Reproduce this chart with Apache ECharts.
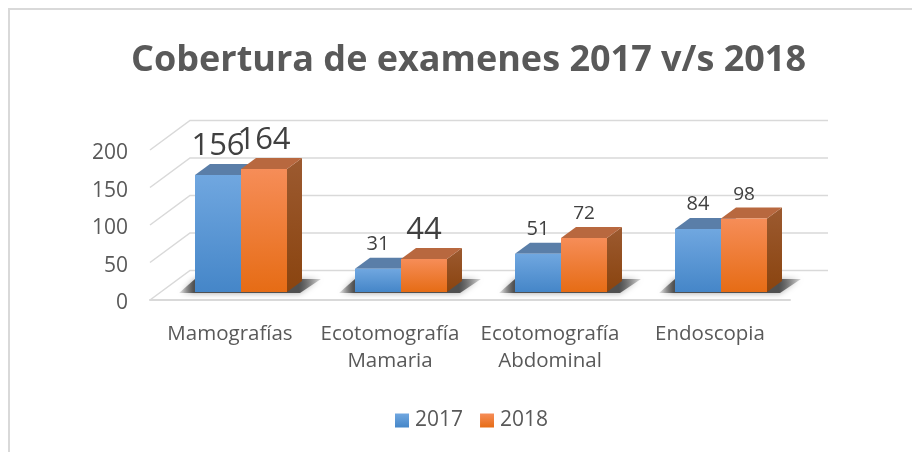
<!DOCTYPE html>
<html><head><meta charset="utf-8">
<style>html,body{margin:0;padding:0;background:#fff}#c{width:912px;height:452px}</style>
<script src="https://cdn.jsdelivr.net/npm/echarts@6/dist/echarts.min.js"></script>
</head><body><div id="c"></div>
<script>
const categories = ['Mamografías', 'Ecotomografía\nMamaria', 'Ecotomografía\nAbdominal', 'Endoscopia'];
const values2017 = [156, 31, 51, 84];
const values2018 = [164, 44, 72, 98];
const labelSize2017 = [31, 20, 20, 20];
const labelSize2018 = [31, 31, 19, 19];
const ticks = [0, 50, 100, 150, 200];

const WALL = [40, -29.5], INSET = [11, -8], DEPTH = [15, -11];
const GREY = '#d9d9d9', TXT = '#404040';
const grad = (a, b) => ({type:'linear',x:0,y:0,x2:0,y2:1,colorStops:[{offset:0,color:a},{offset:1,color:b}]});

function wall(params, api) {
  const v = api.value(0);
  const a = api.coord([0, v]);
  const band = api.size([1, 0])[0];
  const x0 = a[0] - band / 2, y0 = a[1];
  const x1 = x0 + WALL[0], y1 = y0 + WALL[1];
  const xEnd = x1 + band * 4 - 2;
  return {type:'polyline', silent:true, shape:{points:[[x0,y0],[x1,y1],[xEnd,y1]]},
    style:{stroke:GREY, lineWidth:1.5, fill:null}};
}
function shadow(params, api) {
  const c = api.coord([api.value(0), 0]);
  const band = api.size([1, 0])[0];
  const w = band * 0.2875;
  const l = c[0] + INSET[0] - w, r = c[0] + INSET[0] + w, y = c[1] + INSET[1] + 1;
  const W = r + 34 - (l - 16);
  return {type:'polygon', silent:true, shape:{points:[[l-16,y],[r+13,y],[r+34,y-14],[l,y-14]]},
    style:{fill:{type:'linear',x:0,y:0,x2:1,y2:0,colorStops:[
      {offset:0,color:'rgba(80,80,80,0.1)'},{offset:15/W,color:'#505050'},
      {offset:1-22/W,color:'#505050'},{offset:1,color:'rgba(80,80,80,0.2)'}]},
      shadowBlur:6, shadowColor:'rgba(100,100,100,0.6)'}};
}
function bar(front, top, side, side2, idx, sizes) {
  return function (params, api) {
    const cat = api.value(0), val = api.value(1);
    const base = api.coord([cat, 0]), tip = api.coord([cat, val]);
    const band = api.size([1, 0])[0];
    const w = band * 0.2875;
    const cx = base[0] + INSET[0];
    const l = cx + (idx - 1) * w, r = l + w;
    const b = base[1] + INSET[1], t = tip[1] + INSET[1];
    const fs = sizes[cat];
    return {type:'group', children:[
      {type:'polygon', shape:{points:[[r,b],[r+DEPTH[0],b+DEPTH[1]],[r+DEPTH[0],t+DEPTH[1]],[r,t]]},
        style:{fill:grad(side, side2)}},
      {type:'polygon', shape:{points:[[l,t],[r,t],[r+DEPTH[0],t+DEPTH[1]],[l+DEPTH[0],t+DEPTH[1]]]},
        style:{fill:top}},
      {type:'rect', shape:{x:l,y:t,width:w,height:b-t}, style:{fill:grad(front[0], front[1])}},
      {type:'text', z2:50, style:{text:String(val), x:(l+r)/2, y:t-17.5-fs*0.36, align:'center', verticalAlign:'middle',
        font:fs+'px "Open Sans"', fill:TXT}}
    ]};
  };
}
const BLUE = ['#70a7e0', '#4586c8'], ORANGE = ['#f68d58', '#e66c15'];
const chart = echarts.init(document.getElementById('c'), null, {renderer:'canvas'});
chart.setOption({
  animation:false,
  backgroundColor:'#fff',
  graphic:[{type:'rect', z:-1, silent:true, shape:{x:9,y:9,width:920,height:460}, style:{fill:'#fff',stroke:'#d9d9d9',lineWidth:2}}],
  title:{text:'Cobertura de examenes 2017 v/s 2018', left:126, top:38,
    textStyle:{fontFamily:'Open Sans', fontWeight:'bold', fontSize:36, color:'#595959'}},
  legend:{top:410, left:395, itemWidth:14, itemHeight:14, itemGap:17, selectedMode:false, padding:[0,0,0,0],
    textStyle:{fontFamily:'Open Sans', fontSize:21, color:'#595959', padding:[0,0,0,1]},
    data:[{name:'2017', icon:'rect', itemStyle:{color:grad(BLUE[0],BLUE[1])}},
          {name:'2018', icon:'rect', itemStyle:{color:grad(ORANGE[0],ORANGE[1])}}]},
  grid:{left:150, top:150, width:640, height:150},
  xAxis:{type:'category', data:categories, axisTick:{show:false},
    axisLine:{lineStyle:{color:GREY, width:2}},
    axisLabel:{fontFamily:'Open Sans', fontSize:20.5, color:'#595959', margin:20, lineHeight:27.5, interval:0}},
  yAxis:{type:'value', min:0, max:200, interval:50, splitLine:{show:false}, axisLine:{show:false}, axisTick:{show:false},
    axisLabel:{fontFamily:'Open Sans', fontSize:21, color:'#595959', margin:22, verticalAlign:'top', lineHeight:7}},
  series:[
    {type:'custom', name:'wall', data:ticks.map(t=>[t]), encode:{y:0}, renderItem:wall, silent:true, z:1},
    {type:'custom', name:'shadow', data:categories.map((c,i)=>[i]), encode:{x:0}, renderItem:shadow, silent:true, z:2},
    {type:'custom', name:'2017', data:values2017.map((v,i)=>[i,v]), encode:{x:0,y:1}, renderItem:bar(BLUE,'#5a7ea8','#4a76a8','#3a659a',0,labelSize2017), z:3},
    {type:'custom', name:'2018', data:values2018.map((v,i)=>[i,v]), encode:{x:0,y:1}, renderItem:bar(ORANGE,'#b8683f','#9c5a30','#8a440f',1,labelSize2018), z:4}
  ]
});
</script></body></html>
